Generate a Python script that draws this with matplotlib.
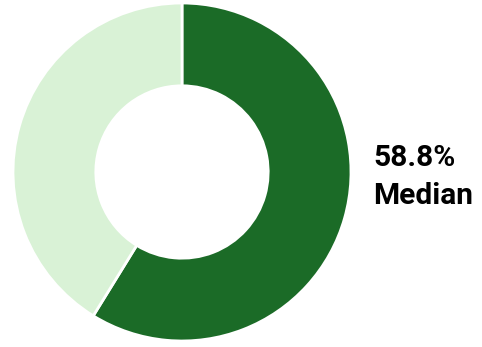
import matplotlib
matplotlib.use("Agg")
import matplotlib.pyplot as plt

labels = ["Median", "Rest"]
values = [58.8, 41.2]
colors = ["#1b6b27", "#d9f2d6"]
center_text = "58.8%\nMedian"

W, H = 482, 347
fig = plt.figure(figsize=(W/100, H/100), dpi=100)
cx, cy, r = 182, 172, 169
ax = fig.add_axes([(cx - r)/W, (H - cy - r)/H, 2*r/W, 2*r/H])
ax.pie(values, colors=colors, startangle=90, counterclock=False,
       wedgeprops=dict(width=0.49, edgecolor="white", linewidth=2))
ax.set_aspect("equal")
ax.set_xlim(-1, 1); ax.set_ylim(-1, 1)
fig.text(373/W, 1 - 177/H, center_text, fontsize=21.5, fontweight="bold",
         family="Roboto", ha="left", va="center", linespacing=1.45)
fig.savefig("out.png", dpi=100)
